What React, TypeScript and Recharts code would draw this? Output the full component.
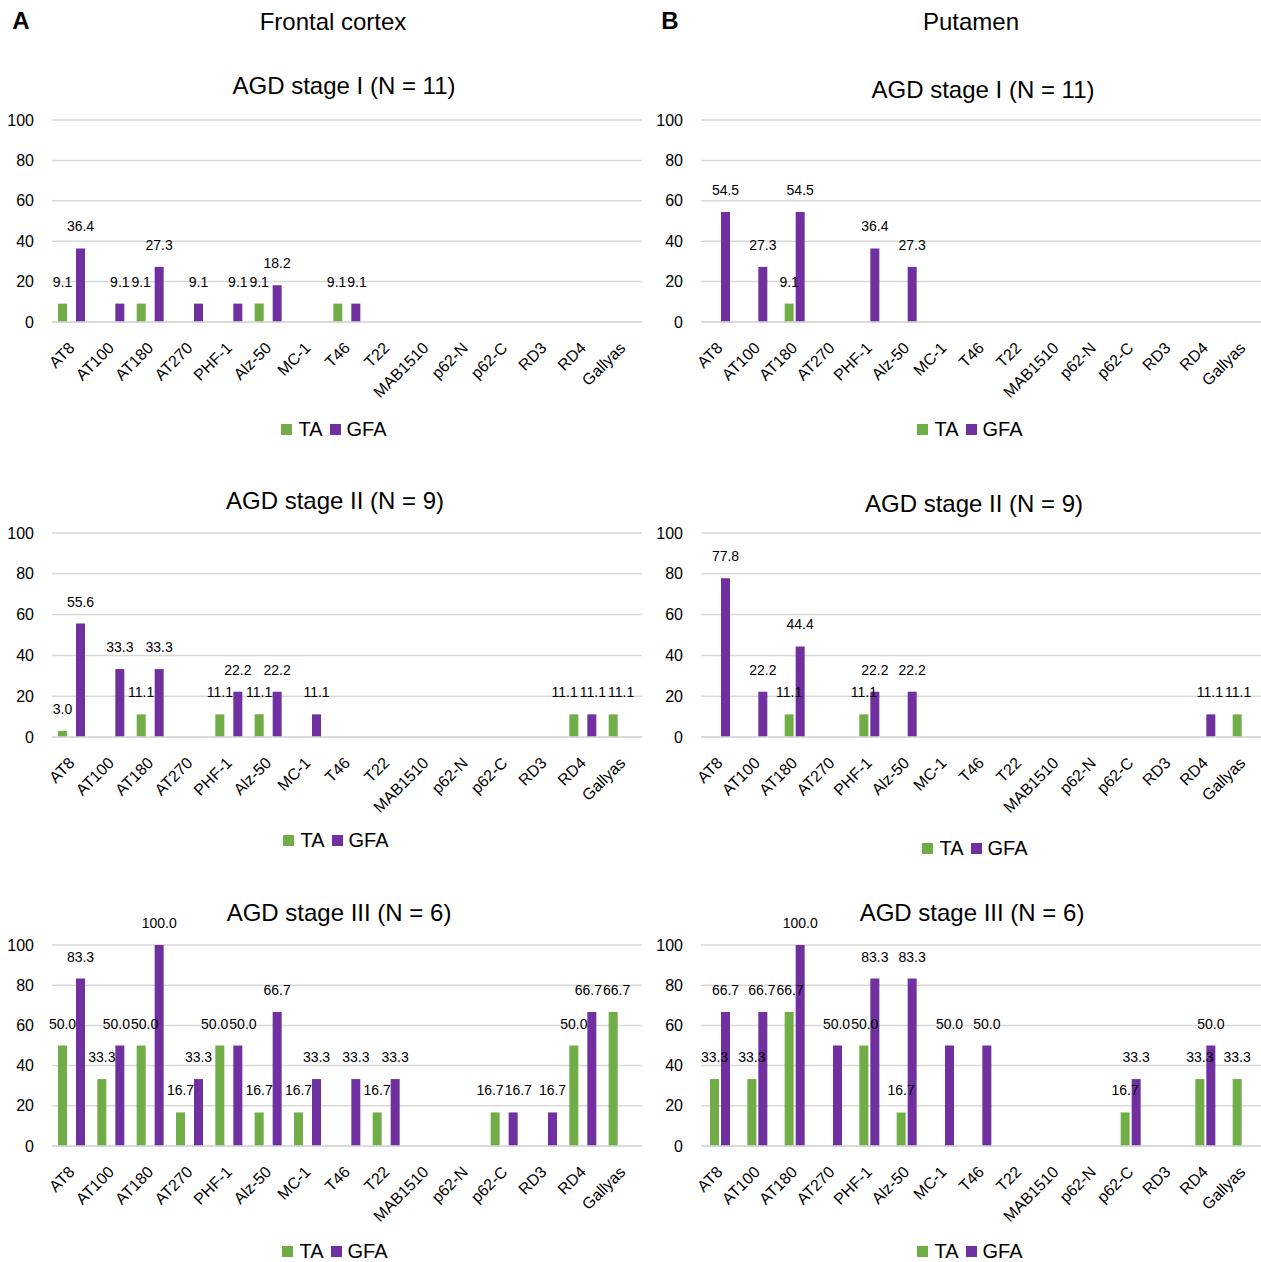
import React from 'react';
import { BarChart, Bar, XAxis, YAxis, CartesianGrid, Legend, LabelList } from 'recharts';

const categories = ['AT8', 'AT100', 'AT180', 'AT270', 'PHF-1', 'Alz-50', 'MC-1', 'T46', 'T22', 'MAB1510', 'p62-N', 'p62-C', 'RD3', 'RD4', 'Gallyas'];

const frontalStage1TA = [9.1, 0, 9.1, 0, 0, 9.1, 0, 9.1, 0, 0, 0, 0, 0, 0, 0];
const frontalStage1GFA = [36.4, 9.1, 27.3, 9.1, 9.1, 18.2, 0, 9.1, 0, 0, 0, 0, 0, 0, 0];
const frontalStage2TA = [3.0, 0, 11.1, 0, 11.1, 11.1, 0, 0, 0, 0, 0, 0, 0, 11.1, 11.1];
const frontalStage2GFA = [55.6, 33.3, 33.3, 0, 22.2, 22.2, 11.1, 0, 0, 0, 0, 0, 0, 11.1, 0];
const frontalStage3TA = [50.0, 33.3, 50.0, 16.7, 50.0, 16.7, 16.7, 0, 16.7, 0, 0, 16.7, 0, 50.0, 66.7];
const frontalStage3GFA = [83.3, 50.0, 100.0, 33.3, 50.0, 66.7, 33.3, 33.3, 33.3, 0, 0, 16.7, 16.7, 66.7, 0];

const putamenStage1TA = [0, 0, 9.1, 0, 0, 0, 0, 0, 0, 0, 0, 0, 0, 0, 0];
const putamenStage1GFA = [54.5, 27.3, 54.5, 0, 36.4, 27.3, 0, 0, 0, 0, 0, 0, 0, 0, 0];
const putamenStage2TA = [0, 0, 11.1, 0, 11.1, 0, 0, 0, 0, 0, 0, 0, 0, 0, 11.1];
const putamenStage2GFA = [77.8, 22.2, 44.4, 0, 22.2, 22.2, 0, 0, 0, 0, 0, 0, 0, 11.1, 0];
const putamenStage3TA = [33.3, 33.3, 66.7, 0, 50.0, 16.7, 0, 0, 0, 0, 0, 16.7, 0, 33.3, 33.3];
const putamenStage3GFA = [66.7, 66.7, 100.0, 50.0, 83.3, 83.3, 50.0, 50.0, 0, 0, 0, 33.3, 0, 50.0, 0];

const yTicks = [0, 20, 40, 60, 80, 100];
const seriesNames = ['TA', 'GFA'];
const seriesColors = ['#70AD47', '#7030A0'];

const FONT = '"Liberation Sans", Arial, Helvetica, sans-serif';
const GRID = '#d9d9d9';
const LABEL_SIZE = 14;
const BAR_SIZE = 9;
const TOP_PAD = 40;
const Y_AXIS_W = 52;

function buildRows(ta: number[], gfa: number[]) {
  return categories.map((name, i) => ({ name, TA: ta[i], GFA: gfa[i] }));
}

// Simple collision avoidance for value labels that sit at the same height and overlap.
function labelShifts(ta: number[], gfa: number[], band: number, within: number, ppu: number) {
  const textW = (v: number) => ((v.toFixed(1).length - 1) * 0.556 + 0.278) * LABEL_SIZE;
  const GAP = 1;
  const items: any[] = [];
  [ta, gfa].forEach((arr, s) => arr.forEach((v, i) => {
    if (v > 0) items.push({ s, i, cx: i * band + (s ? within : 0), y: v * ppu, w: textW(v) });
  }));
  items.sort((a, b) => a.cx - b.cx);
  const bounds = (c: any) => {
    const total = c.members.reduce((t: number, m: any) => t + m.w, 0) + GAP * (c.members.length - 1);
    const center = c.members.reduce((t: number, m: any) => t + m.cx, 0) / c.members.length;
    return { left: center - total / 2, right: center + total / 2 };
  };
  const clusters: any[] = [];
  for (const it of items) {
    clusters.push({ members: [it], y: it.y });
    while (clusters.length > 1) {
      const B = clusters[clusters.length - 1];
      const A = clusters[clusters.length - 2];
      if (Math.abs(A.y - B.y) < 12 && bounds(A).right + GAP > bounds(B).left) {
        A.members = A.members.concat(B.members);
        clusters.pop();
      } else break;
    }
  }
  const shifts = [ta.map(() => 0), gfa.map(() => 0)];
  for (const c of clusters) {
    let x = bounds(c).left;
    for (const m of c.members) {
      shifts[m.s][m.i] = x + m.w / 2 - m.cx;
      x += m.w + GAP;
    }
  }
  return shifts;
}

const ValueLabel = (props: any) => {
  const { x, y, width, value, shifts, band } = props;
  if (typeof value !== 'number' || value <= 0) return null;
  const cx = x + width / 2;
  const idx = Math.floor((cx - Y_AXIS_W) / band);
  const dx = shifts && shifts[idx] ? shifts[idx] : 0;
  return (
    <text x={cx + dx} y={y - 17} textAnchor="middle" fontSize={LABEL_SIZE} fill="#000" fontFamily={FONT}>
      {value.toFixed(1)}
    </text>
  );
};

const AngledTick = (props: any) => {
  const { x, y, payload } = props;
  const ax = x + 4;
  const ay = y + 27;
  return (
    <text x={ax} y={ay} transform={`rotate(-45, ${ax}, ${ay})`} textAnchor="end" fontSize={16} fill="#000" fontFamily={FONT}>
      {payload.value}
    </text>
  );
};

function LegendBox({ shift }: { shift: number }) {
  return (
    <div style={{ width: '100%', height: 22, display: 'flex', justifyContent: 'center', alignItems: 'center', transform: `translateX(${shift}px)`, fontFamily: FONT, fontSize: 20, color: '#000', lineHeight: '22px' }}>
      {seriesNames.map((n, i) => (
        <div key={n} style={{ display: 'flex', alignItems: 'center', marginRight: i === 0 ? 7 : 0 }}>
          <div style={{ width: 11, height: 11, background: seriesColors[i], marginRight: 6 }} />
          <span>{n}</span>
        </div>
      ))}
    </div>
  );
}

type PanelProps = {
  left: number; plotTop: number; width: number; height: number; xAxisHeight: number;
  barGap: number; legendShift: number; ta: number[]; gfa: number[];
};

function Panel({ left, plotTop, width, height, xAxisHeight, barGap, legendShift, ta, gfa }: PanelProps) {
  const data = buildRows(ta, gfa);
  const plotH = height - xAxisHeight - 22;
  const band = (width - Y_AXIS_W) / categories.length;
  const shifts = labelShifts(ta, gfa, band, BAR_SIZE + barGap, plotH / 100);
  return (
    <div style={{ position: 'absolute', left, top: plotTop - TOP_PAD, width, height: height + TOP_PAD }}>
      <BarChart width={width} height={height + TOP_PAD} data={data} margin={{ top: TOP_PAD, right: 0, bottom: 0, left: 0 }} barGap={barGap} barSize={BAR_SIZE}>
        <CartesianGrid vertical={false} stroke={GRID} strokeWidth={1.5} />
        <XAxis dataKey="name" interval={0} height={xAxisHeight} tickLine={false} tickSize={0} tickMargin={0}
          axisLine={{ stroke: GRID, strokeWidth: 1.5 }} tick={<AngledTick />} />
        <YAxis width={Y_AXIS_W} domain={[0, 100]} ticks={yTicks} interval={0} axisLine={false} tickLine={false} tickSize={0} tickMargin={18}
          tick={{ fontSize: 16, fill: '#000', fontFamily: FONT }} />
        <Legend verticalAlign="bottom" wrapperStyle={{ left: 0, width, height: 22 }} content={() => <LegendBox shift={legendShift} />} />
        {seriesNames.map((s, i) => (
          <Bar key={s} dataKey={s} fill={seriesColors[i]} isAnimationActive={false}>
            <LabelList dataKey={s} content={<ValueLabel shifts={shifts[i]} band={band} />} />
          </Bar>
        ))}
      </BarChart>
    </div>
  );
}

const textStyle = (x: number, y: number, size: number, bold = false): React.CSSProperties => ({
  position: 'absolute', left: x, top: y, transform: 'translate(-50%, -50%)', whiteSpace: 'nowrap',
  fontFamily: FONT, fontSize: size, fontWeight: bold ? 'bold' : 'normal', color: '#000', lineHeight: 1,
});

export default function App() {
  const LW = 642;
  const RL = 649;
  const RW = 612;
  return (
    <div style={{ position: 'absolute', left: 0, top: 0, width: 1261, height: 1262, overflow: 'hidden', background: '#fff' }}>
      <div style={textStyle(21, 21, 24, true)}>A</div>
      <div style={textStyle(333, 22, 24)}>Frontal cortex</div>
      <div style={textStyle(670, 21, 24, true)}>B</div>
      <div style={textStyle(971, 22, 24)}>Putamen</div>

      <div style={textStyle(344, 86, 24)}>AGD stage I (N = 11)</div>
      <div style={textStyle(335, 501, 24)}>AGD stage II (N = 9)</div>
      <div style={textStyle(339, 913, 24)}>AGD stage III (N = 6)</div>
      <div style={textStyle(983, 90, 24)}>AGD stage I (N = 11)</div>
      <div style={textStyle(974, 504, 24)}>AGD stage II (N = 9)</div>
      <div style={textStyle(972, 913, 24)}>AGD stage III (N = 6)</div>

      <Panel left={0} plotTop={120} width={LW} height={320} xAxisHeight={96} barGap={9} legendShift={13} ta={frontalStage1TA} gfa={frontalStage1GFA} />
      <Panel left={0} plotTop={533} width={LW} height={318} xAxisHeight={92} barGap={9} legendShift={15} ta={frontalStage2TA} gfa={frontalStage2GFA} />
      <Panel left={0} plotTop={945} width={LW} height={317} xAxisHeight={94} barGap={9} legendShift={14} ta={frontalStage3TA} gfa={frontalStage3GFA} />

      <Panel left={RL} plotTop={120} width={RW} height={320} xAxisHeight={96} barGap={2} legendShift={15} ta={putamenStage1TA} gfa={putamenStage1GFA} />
      <Panel left={RL} plotTop={533} width={RW} height={326} xAxisHeight={100} barGap={2} legendShift={20} ta={putamenStage2TA} gfa={putamenStage2GFA} />
      <Panel left={RL} plotTop={945} width={RW} height={317} xAxisHeight={94} barGap={2} legendShift={15} ta={putamenStage3TA} gfa={putamenStage3GFA} />
    </div>
  );
}
